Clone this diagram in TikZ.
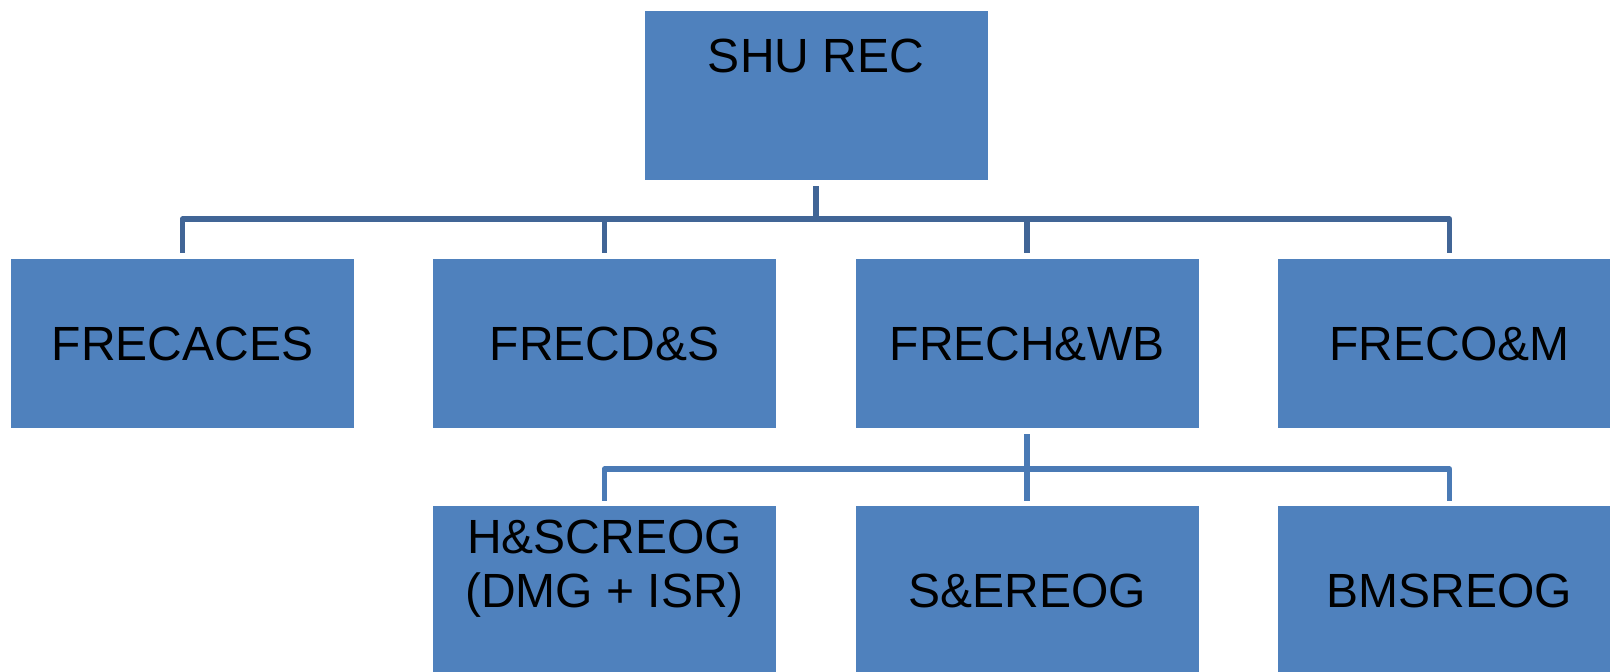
\documentclass[tikz,border=0pt]{standalone}
\usepackage{fontspec}
\setmainfont{Liberation Sans}
\usetikzlibrary{positioning,calc}
\definecolor{boxblue}{RGB}{79,129,189}
\definecolor{lineone}{RGB}{65,101,150}
\definecolor{linetwo}{RGB}{74,122,181}

\begin{document}
\begin{tikzpicture}[
    x=0.5pt, y=-0.5pt,
    block/.style={rectangle, fill=boxblue, minimum width=171.5pt, minimum height=84.5pt, inner sep=0pt, align=center, font=\fontsize{24}{27}\selectfont},
    oneline/.style={text height=17.2pt, text depth=0pt},
    topline/.style={draw=lineone, line width=2.75pt, line join=round},
    lowline/.style={draw=linetwo, line width=2.75pt, line join=round}
]
\useasboundingbox (0,0) rectangle (1610,671);
\clip (0,0) rectangle (1610,671);

% Blocks
\node[block, text height=17.2pt, text depth=40.7pt] (shu) at (816,95.5) {SHU REC};

\node[block, oneline] (caces) at (182.5,343.5) {FRECACES};
\node[block, oneline] (ds) at (604.5,343.5) {FRECD\&S};
\node[block, oneline] (hwb) at (1027,343.5) {FRECH\&WB};
\node[block, oneline] (om) at (1449.5,343.5) {FRECO\&M};

\node[block] (hsc) at (604.5,590.5) {H\&SCREOG\\(DMG + ISR)\\\mbox{}};
\node[block, oneline] (se) at (1027,590.5) {S\&EREOG};
\node[block, oneline] (bms) at (1449.5,590.5) {BMSREOG};

% Buses
\coordinate (bus) at (816,219);
\coordinate (subbus) at (1027,469);

% Connectors, first level
\draw[topline] ([yshift=-3pt]shu.south) -- (bus);
\draw[topline] ([yshift=3pt]caces.north) -- (caces.north |- bus) -- (om.north |- bus) -- ([yshift=3pt]om.north);
\draw[topline] (ds.north |- bus) -- ([yshift=3pt]ds.north);
\draw[topline] (hwb.north |- bus) -- ([yshift=3pt]hwb.north);

% Connectors, second level
\draw[lowline] ([yshift=-3pt]hwb.south) -- (subbus);
\draw[lowline] ([yshift=2.5pt]hsc.north) -- (hsc.north |- subbus) -- (bms.north |- subbus) -- ([yshift=2.5pt]bms.north);
\draw[lowline] (se.north |- subbus) -- ([yshift=2.5pt]se.north);

\end{tikzpicture}
\end{document}
